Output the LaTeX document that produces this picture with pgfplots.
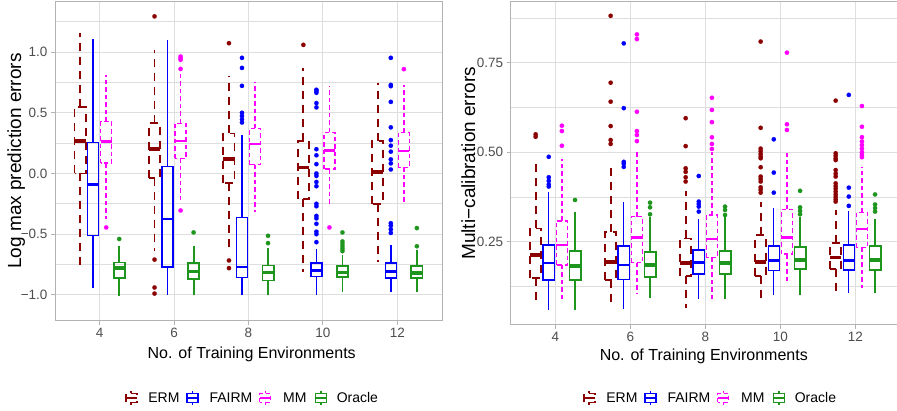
\documentclass[border=0pt]{standalone}
\usepackage{pgfplots}
\pgfplotsset{compat=1.18}
\usepgfplotslibrary{statistics}
\usepackage{fontspec}
\setmainfont{Liberation Sans}

\definecolor{ermc}{HTML}{8B0000}
\definecolor{fairmc}{HTML}{0000FF}
\definecolor{mmc}{HTML}{FF00FF}
\definecolor{orac}{HTML}{1E961E}
\definecolor{gridc}{HTML}{DEDEDE}
\definecolor{borderc}{HTML}{B3B3B3}
\definecolor{tickc}{HTML}{4D4D4D}

\pgfplotsset{
  panel/.style={
    scale only axis,
    xmin=2.8, xmax=13.2,
    xtick={4,6,8,10,12},
    xticklabels={4,6,8,10,12},
    xtick pos=bottom, ytick pos=left,
    xmajorgrids, ymajorgrids, yminorgrids,
    major grid style={gridc, line width=1pt},
    minor grid style={gridc, line width=0.7pt},
    axis line style={borderc, line width=1pt},
    tick style={borderc, line width=0.9pt},
    tick align=outside,
    major tick length=4pt,
    minor tick length=0pt,
    ticklabel style={font=\fontsize{13.5}{16}\selectfont, text=tickc},
    /pgf/number format/assume math mode=true,
    boxplot/draw direction=y,
    boxplot/box extend=0.3,
    boxplot/whisker extend=0,
  },
  % box styles
  erm/.style={color=ermc, line width=1.8pt, dash pattern=on 8pt off 6pt, mark=none,
    boxplot/every median/.style={solid, line width=3.8pt}},
  fairm/.style={color=fairmc, line width=1.35pt, solid, mark=none,
    boxplot/every median/.style={solid, line width=2.4pt}},
  mm/.style={color=mmc, line width=1.35pt, dash pattern=on 4.5pt off 3pt, mark=none,
    boxplot/every median/.style={solid, line width=2.6pt}},
  ora/.style={color=orac, line width=1.8pt, solid, mark=none,
    boxplot/every median/.style={solid, line width=3.6pt}},
  % whisker styles
  ermw/.style={ermc, line width=1.8pt, dash pattern=on 8pt off 6pt, mark=none},
  fairmw/.style={fairmc, line width=1.35pt, solid, mark=none},
  mmw/.style={mmc, line width=1.35pt, dash pattern=on 4.5pt off 3pt, mark=none},
  oraw/.style={orac, line width=1.8pt, solid, mark=none},
  pts/.style={only marks, mark=*, mark size=2.2pt,
    mark options={solid, fill=#1, draw=#1, line width=0.1pt}},
}

% style, position, lower whisker, lower quartile, median, upper quartile, upper whisker
\newcommand{\bx}[7]{%
  \addplot[#1, boxplot prepared={draw position=#2,
    lower whisker=#4, lower quartile=#4, median=#5,
    upper quartile=#6, upper whisker=#6}] coordinates {};
  \addplot[#1w] coordinates {(#2,#4) (#2,#3)};
  \addplot[#1w] coordinates {(#2,#6) (#2,#7)};}

% legend key
\newcommand{\legkey}[3]{%
  \begin{scope}[shift={(#1pt,#2pt)}]
    \draw[#3] (0,-7pt) -- (0,-4.5pt) (0,4.5pt) -- (0,7pt);
    \draw[#3] (-5.5pt,-4.5pt) rectangle (5.5pt,4.5pt);
    \draw[#3, solid] (-5.5pt,0) -- (5.5pt,0);
  \end{scope}}

\begin{document}
\begin{tikzpicture}
\path[use as bounding box] (0pt,0pt) rectangle (897pt,411pt);

% ---------- left: log max prediction errors ----------
\begin{axis}[panel,
  at={(55pt,90.3pt)}, anchor=south west,
  width=387pt, height=319pt,
  ymin=-1.2135, ymax=1.416,
  ytick={-1,-0.5,0,0.5,1},
  yticklabels={−1.0,−0.5,0.0,0.5,1.0},
  minor ytick={-0.75,-0.25,0.25,0.75,1.25},
]
\bx{erm}{3.475}{-0.755}{0.0}{0.27}{0.545}{1.16}
\bx{fairm}{3.825}{-0.945}{-0.511}{-0.09}{0.253}{1.107}
\bx{mm}{4.175}{-0.376}{0.085}{0.262}{0.427}{0.81}
\bx{ora}{4.525}{-1.014}{-0.863}{-0.78}{-0.733}{-0.60}

\bx{erm}{5.475}{-0.643}{-0.04}{0.204}{0.413}{1.02}
\bx{fairm}{5.825}{-1.0}{-0.772}{-0.374}{0.055}{1.10}
\bx{mm}{6.175}{-0.245}{0.124}{0.267}{0.413}{0.83}
\bx{ora}{6.525}{-1.0}{-0.868}{-0.808}{-0.739}{-0.60}

\bx{erm}{7.475}{-0.643}{-0.08}{0.118}{0.33}{0.80}
\bx{fairm}{7.825}{-1.0}{-0.86}{-0.77}{-0.363}{0.317}
\bx{mm}{8.175}{-0.32}{0.072}{0.243}{0.372}{0.757}
\bx{ora}{8.525}{-1.0}{-0.882}{-0.816}{-0.758}{-0.615}

\bx{erm}{9.475}{-0.813}{-0.21}{0.05}{0.27}{0.868}
\bx{fairm}{9.825}{-1.0}{-0.849}{-0.80}{-0.739}{-0.62}
\bx{mm}{10.175}{-0.258}{0.036}{0.187}{0.339}{0.72}
\bx{ora}{10.525}{-0.973}{-0.854}{-0.816}{-0.761}{-0.67}

\bx{erm}{11.475}{-0.73}{-0.253}{0.014}{0.27}{0.744}
\bx{fairm}{11.825}{-0.973}{-0.863}{-0.808}{-0.739}{-0.588}
\bx{mm}{12.175}{-0.245}{0.05}{0.185}{0.339}{0.73}
\bx{ora}{12.525}{-0.973}{-0.863}{-0.82}{-0.761}{-0.63}

% outliers
\addplot[pts=ermc] coordinates {(5.475,1.295) (5.475,-0.71) (5.475,-0.94) (5.475,-0.99)
  (7.475,1.074) (7.475,-0.717) (7.475,-0.78) (9.475,1.06)};
\addplot[pts=fairmc] coordinates {(7.825,0.953) (7.825,0.87) (7.825,0.722) (7.825,0.50) (7.825,0.474) (7.825,0.446) (7.825,0.42)
  (9.825,0.69) (9.825,0.68) (9.825,0.665) (9.825,0.58) (9.825,0.545) (9.825,0.20) (9.825,0.15) (9.825,0.077) (9.825,0.0) (9.825,-0.02) (9.825,-0.07) (9.825,-0.105) (9.825,-0.25) (9.825,-0.27) (9.825,-0.35) (9.825,-0.37) (9.825,-0.415) (9.825,-0.48) (9.825,-0.5) (9.825,-0.566)
  (11.825,0.953) (11.825,0.73) (11.825,0.72) (11.825,0.59) (11.825,0.38) (11.825,0.275) (11.825,0.229) (11.825,0.18) (11.825,0.116) (11.825,0.083) (11.825,0.033) (11.825,-0.41) (11.825,-0.43) (11.825,-0.46) (11.825,-0.49)};
\addplot[pts=mmc] coordinates {(4.175,-0.445) (6.175,0.964) (6.175,0.95) (6.175,0.937) (6.175,0.862) (6.175,-0.305)
  (10.175,-0.445) (12.175,0.86)};
\addplot[pts=orac] coordinates {(4.525,-0.54) (6.525,-0.486) (8.525,-0.514) (8.525,-0.574)
  (10.525,-0.486) (10.525,-0.56) (10.525,-0.58) (10.525,-0.60) (10.525,-0.62) (10.525,-0.64)
  (12.525,-0.45) (12.525,-0.60)};
\end{axis}

% ---------- right: multi-calibration errors ----------
\begin{axis}[panel,
  at={(510.7pt,86pt)}, anchor=south west,
  width=389.3pt, height=323.3pt,
  xmin=2.81, xmax=13.19,
  ymin=0.0173, ymax=0.9204,
  ytick={0.25,0.5,0.75},
  yticklabels={0.25,0.50,0.75},
  minor ytick={0.125,0.375,0.625,0.875},
]
\bx{erm}{3.475}{0.082}{0.148}{0.213}{0.287}{0.478}
\bx{fairm}{3.825}{0.059}{0.143}{0.191}{0.241}{0.39}
\bx{mm}{4.175}{0.087}{0.185}{0.241}{0.308}{0.48}
\bx{ora}{4.525}{0.059}{0.143}{0.182}{0.224}{0.334}

\bx{erm}{5.475}{0.082}{0.143}{0.194}{0.278}{0.47}
\bx{fairm}{5.825}{0.061}{0.145}{0.185}{0.238}{0.362}
\bx{mm}{6.175}{0.104}{0.191}{0.261}{0.32}{0.50}
\bx{ora}{6.525}{0.092}{0.152}{0.185}{0.222}{0.32}

\bx{erm}{7.475}{0.064}{0.154}{0.191}{0.259}{0.392}
\bx{fairm}{7.825}{0.089}{0.16}{0.192}{0.227}{0.313}
\bx{mm}{8.175}{0.089}{0.206}{0.2575}{0.3245}{0.501}
\bx{ora}{8.525}{0.089}{0.16}{0.191}{0.224}{0.32}

\bx{erm}{9.475}{0.087}{0.155}{0.194}{0.269}{0.362}
\bx{fairm}{9.825}{0.101}{0.169}{0.197}{0.238}{0.343}
\bx{mm}{10.175}{0.132}{0.2156}{0.261}{0.3405}{0.4986}
\bx{ora}{10.525}{0.101}{0.173}{0.199}{0.236}{0.32}

\bx{erm}{11.475}{0.106}{0.173}{0.206}{0.247}{0.3385}
\bx{fairm}{11.825}{0.106}{0.171}{0.197}{0.241}{0.337}
\bx{mm}{12.175}{0.12}{0.234}{0.285}{0.331}{0.46}
\bx{ora}{12.525}{0.106}{0.171}{0.199}{0.238}{0.313}

% outliers
\addplot[pts=ermc] coordinates {(3.475,0.55) (3.475,0.543)
  (5.475,0.881) (5.475,0.694) (5.475,0.641) (5.475,0.573) (5.475,0.534) (5.475,0.523)
  (7.475,0.595) (7.475,0.517) (7.475,0.455) (7.475,0.445) (7.475,0.43) (7.475,0.418)
  (9.475,0.809) (9.475,0.568) (9.475,0.51) (9.475,0.503) (9.475,0.495) (9.475,0.488) (9.475,0.483) (9.475,0.458) (9.475,0.432) (9.475,0.425) (9.475,0.418) (9.475,0.402) (9.475,0.395) (9.475,0.387)
  (11.475,0.644) (11.475,0.497) (11.475,0.49) (11.475,0.483) (11.475,0.478) (11.475,0.45) (11.475,0.44) (11.475,0.432) (11.475,0.413) (11.475,0.405) (11.475,0.398) (11.475,0.39) (11.475,0.382) (11.475,0.375) (11.475,0.368) (11.475,0.362)};
\addplot[pts=fairmc] coordinates {(3.825,0.487) (3.825,0.43) (3.825,0.42) (3.825,0.41) (3.825,0.404)
  (5.825,0.804) (5.825,0.623) (5.825,0.473) (5.825,0.468) (5.825,0.459)
  (7.825,0.4335) (7.825,0.362) (7.825,0.355) (7.825,0.348) (7.825,0.334)
  (9.825,0.536) (9.825,0.443) (9.825,0.387)
  (11.825,0.66) (11.825,0.401) (11.825,0.376) (11.825,0.35)};
\addplot[pts=mmc] coordinates {(4.175,0.574) (4.175,0.559) (4.175,0.518)
  (6.175,0.829) (6.175,0.816) (6.175,0.613) (6.175,0.559) (6.175,0.548) (6.175,0.531)
  (8.175,0.652) (8.175,0.618) (8.175,0.584) (8.175,0.5416) (8.175,0.523) (8.175,0.509)
  (10.175,0.778) (10.175,0.578) (10.175,0.562)
  (12.175,0.629) (12.175,0.571) (12.175,0.542) (12.175,0.53) (12.175,0.52) (12.175,0.51) (12.175,0.5) (12.175,0.492) (12.175,0.486)};
\addplot[pts=orac] coordinates {(4.525,0.3665)
  (6.525,0.359) (6.525,0.346) (6.525,0.3265)
  (8.525,0.348) (8.525,0.3385) (8.525,0.3245)
  (10.525,0.392) (10.525,0.346) (10.525,0.336) (10.525,0.3265)
  (12.525,0.382) (12.525,0.354) (12.525,0.344) (12.525,0.334)};
\end{axis}

% axis titles
\node[font=\fontsize{16}{18}\selectfont] at (251.7pt,56.7pt) {No. of Training Environments};
\node[font=\fontsize{16}{18}\selectfont] at (703.8pt,54.3pt) {No. of Training Environments};
\node[font=\fontsize{19}{21}\selectfont, rotate=90, anchor=base] at (21pt,250pt) {Log max prediction errors};
\node[font=\fontsize{19}{21}\selectfont, rotate=90, anchor=base] at (475pt,247.7pt) {Multi−calibration errors};

% legends
\foreach \dx in {0,458}{
  \legkey{\fpeval{131.3+\dx}}{13}{ermc, line width=1.8pt, dash pattern=on 8pt off 6pt}
  \legkey{\fpeval{192.4+\dx}}{13}{fairmc, line width=1.35pt}
  \legkey{\fpeval{265.2+\dx}}{13}{mmc, line width=1.35pt, dash pattern=on 4.5pt off 3pt}
  \legkey{\fpeval{321+\dx}}{13}{orac, line width=1.8pt}
  \begin{scope}[every node/.style={font=\fontsize{14}{16}\selectfont, anchor=west, inner sep=0pt}]
    \node at (\fpeval{148.2+\dx}pt,13pt) {ERM};
    \node at (\fpeval{209.4+\dx}pt,13pt) {FAIRM};
    \node at (\fpeval{283+\dx}pt,13pt) {MM};
    \node at (\fpeval{336.6+\dx}pt,13pt) {Oracle};
  \end{scope}
}
\end{tikzpicture}
\end{document}
